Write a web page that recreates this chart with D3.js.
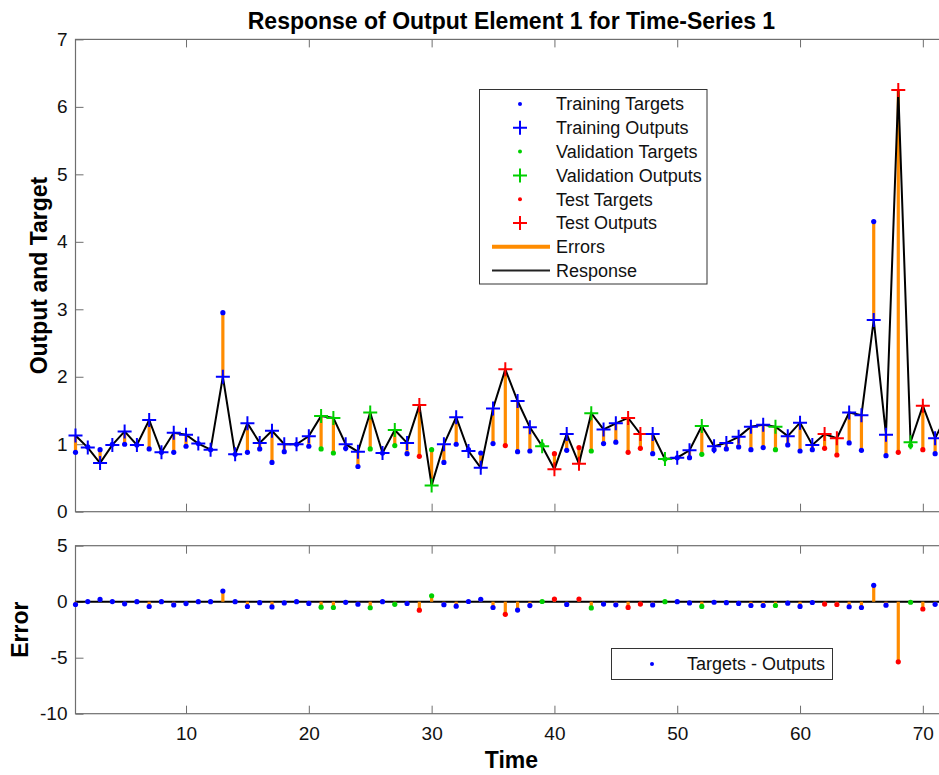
<!DOCTYPE html>
<html>
<head>
<meta charset="utf-8">
<script src="https://cdn.jsdelivr.net/npm/d3@7"></script>
<style>
  body { margin: 0; background: #fff; }
  svg { display: block; font-family: "Liberation Sans", Arial, sans-serif; }
</style>
</head>
<body>
<div class="canvas"></div>
<script>
// time steps of the series
const steps = [1, 2, 3, 4, 5, 6, 7, 8, 9, 10, 11, 12, 13, 14, 15, 16, 17, 18,
  19, 20, 21, 22, 23, 24, 25, 26, 27, 28, 29, 30, 31, 32, 33, 34, 35, 36, 37,
  38, 39, 40, 41, 42, 43, 44, 45, 46, 47, 48, 49, 50, 51, 52, 53, 54, 55, 56,
  57, 58, 59, 60, 61, 62, 63, 64, 65, 66, 67, 68, 69, 70, 71, 72];

const targets = [0.88, 0.96, 0.92, 1.00, 1.00, 0.99, 0.93, 0.88, 0.88, 0.97,
  1.01, 0.92, 2.95, 0.85, 0.88, 0.93, 0.73, 0.89, 1.00, 0.97,
  0.93, 0.87, 0.94, 0.67, 0.93, 0.87, 0.98, 0.86, 0.82, 0.92,
  0.73, 1.00, 0.92, 0.87, 1.01, 0.98, 0.89, 0.90, 0.99, 0.86,
  0.91, 0.95, 0.90, 1.01, 1.03, 0.88, 0.94, 0.86, 0.78, 0.80,
  0.80, 0.85, 0.92, 0.93, 0.96, 0.92, 0.95, 0.92, 0.99, 0.90,
  0.92, 0.94, 0.84, 1.02, 0.91, 4.30, 0.83, 0.88, 0.98, 0.92,
  0.86, 1.10];

const outputs = [1.13, 0.95, 0.72, 0.99, 1.19, 0.99, 1.36, 0.88, 1.17, 1.14,
  1.01, 0.92, 2.00, 0.85, 1.31, 1.02, 1.20, 1.00, 1.00, 1.12,
  1.42, 1.39, 1.00, 0.89, 1.47, 0.87, 1.21, 1.02, 1.58, 0.39,
  1.00, 1.40, 0.90, 0.65, 1.53, 2.11, 1.64, 1.25, 0.97, 0.63,
  1.15, 0.71, 1.46, 1.22, 1.31, 1.39, 1.15, 1.15, 0.78, 0.80,
  0.91, 1.27, 0.97, 1.02, 1.11, 1.26, 1.29, 1.26, 1.12, 1.32,
  0.99, 1.15, 1.09, 1.47, 1.43, 2.84, 1.14, 6.25, 1.03, 1.57,
  1.09, 1.45];

// which steps went to validation / test, the rest are training
const validationSteps = [21, 22, 25, 27, 30, 39, 43, 49, 52, 58, 69];
const testSteps = [29, 36, 40, 42, 46, 47, 62, 63, 68, 70];

const xTicks = [10, 20, 30, 40, 50, 60, 70];
const yTicksTop = [0, 1, 2, 3, 4, 5, 6, 7];
const yTicksBottom = [-10, -5, 0, 5];

const setColor = {train: '#0000ff', val: '#00d000', test: '#ff0000'};
const errColor = '#ff8c00';

const data = steps.map((t, i) => ({
  t,
  target: targets[i],
  output: outputs[i],
  error: targets[i] - outputs[i],
  set: validationSteps.includes(t) ? 'val' : testSteps.includes(t) ? 'test' : 'train'
}));

const width = 939, height = 775;
const svg = d3.select('.canvas')
  .append('svg')
    .attr('width', width)
    .attr('height', height);

const left = 75.5, right = 947.4;
const x = d3.scaleLinear().domain([1, 72]).range([left, right]);

// top axes (response) and bottom axes (error)
const yTop = d3.scaleLinear().domain([0, 7]).range([511.7, 39.4]);
const yBot = d3.scaleLinear().domain([-10, 5]).range([713.7, 545.7]);

const tickFont = 19;
const labelFont = 23;

function drawFrame(y, yTicks, showX) {
  const g = svg.append('g');
  const [y0, y1] = y.range();
  g.append('rect')
    .attr('x', left).attr('y', y1)
    .attr('width', right - left).attr('height', y0 - y1)
    .attr('fill', 'none')
    .attr('stroke', '#6e6e6e')
    .attr('stroke-width', 1.2);

  const xb = g.append('g')
    .attr('transform', `translate(0, ${y0})`)
    .call(d3.axisBottom(x).tickValues(xTicks).tickSizeInner(-8).tickSizeOuter(0)
      .tickPadding(13).tickFormat(d => String(d)));
  const xt = g.append('g')
    .attr('transform', `translate(0, ${y1})`)
    .call(d3.axisTop(x).tickValues(xTicks).tickSizeInner(-8).tickSizeOuter(0).tickFormat(''));
  const yl = g.append('g')
    .attr('transform', `translate(${left}, 0)`)
    .call(d3.axisLeft(y).tickValues(yTicks).tickSizeInner(-8).tickSizeOuter(0)
      .tickPadding(8).tickFormat(d => String(d)));

  [xb, xt, yl].forEach(a => {
    a.select('.domain').remove();
    a.selectAll('line').attr('stroke', '#6e6e6e');
    a.selectAll('text')
      .attr('font-size', tickFont)
      .attr('font-family', '"Liberation Sans", Arial, sans-serif')
      .attr('fill', '#111');
  });
  if (!showX) xb.selectAll('text').remove();
  return g;
}

drawFrame(yTop, yTicksTop, false);
drawFrame(yBot, yTicksBottom, true);

// error stems between targets and outputs
svg.append('g').selectAll('line')
  .data(data)
  .enter()
  .append('line')
    .attr('x1', d => x(d.t)).attr('x2', d => x(d.t))
    .attr('y1', d => yTop(d.target)).attr('y2', d => yTop(d.output))
    .attr('stroke', errColor)
    .attr('stroke-width', 3.2);

// response line
const line = d3.line().x(d => x(d.t)).y(d => yTop(d.output));
svg.append('path')
  .datum(data)
  .attr('d', line)
  .attr('fill', 'none')
  .attr('stroke', '#000')
  .attr('stroke-width', 2);

// targets as dots
svg.append('g').selectAll('circle')
  .data(data)
  .enter()
  .append('circle')
    .attr('cx', d => x(d.t))
    .attr('cy', d => yTop(d.target))
    .attr('r', 2.6)
    .attr('fill', d => setColor[d.set]);

// outputs as plus signs
function plusPath(size) {
  return `M${-size},0H${size}M0,${-size}V${size}`;
}
svg.append('g').selectAll('path')
  .data(data)
  .enter()
  .append('path')
    .attr('transform', d => `translate(${x(d.t)}, ${yTop(d.output)})`)
    .attr('d', plusPath(7))
    .attr('stroke', d => setColor[d.set])
    .attr('stroke-width', 2)
    .attr('fill', 'none');

// error plot: zero line, stems and dots
svg.append('line')
  .attr('x1', left).attr('x2', right)
  .attr('y1', yBot(0)).attr('y2', yBot(0))
  .attr('stroke', '#000')
  .attr('stroke-width', 2);

svg.append('g').selectAll('line')
  .data(data)
  .enter()
  .append('line')
    .attr('x1', d => x(d.t)).attr('x2', d => x(d.t))
    .attr('y1', yBot(0)).attr('y2', d => yBot(d.error))
    .attr('stroke', errColor)
    .attr('stroke-width', 3.2);

svg.append('g').selectAll('circle')
  .data(data)
  .enter()
  .append('circle')
    .attr('cx', d => x(d.t))
    .attr('cy', d => yBot(d.error))
    .attr('r', 2.6)
    .attr('fill', d => setColor[d.set]);

// titles and axis labels
svg.append('text')
  .attr('x', (left + right) / 2).attr('y', 29)
  .attr('text-anchor', 'middle')
  .attr('font-size', labelFont).attr('font-weight', 'bold')
  .text('Response of Output Element 1 for Time-Series 1');

svg.append('text')
  .attr('transform', `translate(47, ${(511.7 + 39.4) / 2}) rotate(-90)`)
  .attr('text-anchor', 'middle')
  .attr('font-size', labelFont).attr('font-weight', 'bold')
  .text('Output and Target');

svg.append('text')
  .attr('transform', `translate(28, ${(713.7 + 545.7) / 2}) rotate(-90)`)
  .attr('text-anchor', 'middle')
  .attr('font-size', labelFont).attr('font-weight', 'bold')
  .text('Error');

svg.append('text')
  .attr('x', (left + right) / 2).attr('y', 768)
  .attr('text-anchor', 'middle')
  .attr('font-size', labelFont).attr('font-weight', 'bold')
  .text('Time');

// legend of the response plot
const legendItems = [
  {label: 'Training Targets', kind: 'dot', color: setColor.train},
  {label: 'Training Outputs', kind: 'plus', color: setColor.train},
  {label: 'Validation Targets', kind: 'dot', color: setColor.val},
  {label: 'Validation Outputs', kind: 'plus', color: setColor.val},
  {label: 'Test Targets', kind: 'dot', color: setColor.test},
  {label: 'Test Outputs', kind: 'plus', color: setColor.test},
  {label: 'Errors', kind: 'line', color: errColor, w: 4},
  {label: 'Response', kind: 'line', color: '#222', w: 2}
];

const legend = svg.append('g');
legend.append('rect')
  .attr('x', 479.5).attr('y', 89.5)
  .attr('width', 227.5).attr('height', 194.5)
  .attr('fill', '#fff')
  .attr('stroke', '#333')
  .attr('stroke-width', 1);

const rows = legend.selectAll('g')
  .data(legendItems)
  .enter()
  .append('g')
    .attr('transform', (d, i) => `translate(0, ${104 + i * 23.8})`);

rows.filter(d => d.kind === 'dot').append('circle')
  .attr('cx', 520).attr('cy', 0).attr('r', 2)
  .attr('fill', d => d.color);
rows.filter(d => d.kind === 'plus').append('path')
  .attr('transform', 'translate(520, 0)')
  .attr('d', plusPath(7))
  .attr('stroke', d => d.color)
  .attr('stroke-width', 2);
rows.filter(d => d.kind === 'line').append('line')
  .attr('x1', 492).attr('x2', 550)
  .attr('stroke', d => d.color)
  .attr('stroke-width', d => d.w);
rows.append('text')
  .attr('x', 556).attr('dy', '0.35em')
  .attr('font-size', 18)
  .attr('fill', '#111')
  .text(d => d.label);

// legend of the error plot
const legend2 = svg.append('g');
legend2.append('rect')
  .attr('x', 611.5).attr('y', 648.5)
  .attr('width', 221).attr('height', 31)
  .attr('fill', '#fff')
  .attr('stroke', '#333')
  .attr('stroke-width', 1);
legend2.append('circle')
  .attr('cx', 652).attr('cy', 664).attr('r', 2)
  .attr('fill', setColor.train);
legend2.append('text')
  .attr('x', 687).attr('y', 664).attr('dy', '0.35em')
  .attr('font-size', 18)
  .attr('fill', '#111')
  .text('Targets - Outputs');
</script>
</body>
</html>
